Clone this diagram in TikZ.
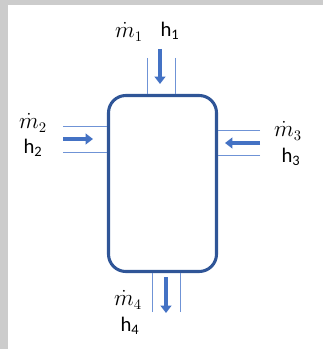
\documentclass[tikz,border=0pt]{standalone}
\usepackage{fontspec}
\setmainfont{Carlito}
\usetikzlibrary{arrows.meta, positioning}
\definecolor{boxblue}{HTML}{2F5597}
\definecolor{flowblue}{HTML}{4472C4}
\definecolor{pipeblue}{HTML}{6F93D6}

\begin{document}
\begin{tikzpicture}[
            x=0.75pt, y=-0.75pt,
            cv/.style={draw=boxblue, line width=2.3pt, rounded corners=13pt,
                       minimum width=81pt, minimum height=132pt, inner sep=0pt},
            pipe/.style={draw=pipeblue, line width=0.7pt},
            flow/.style={draw=flowblue, line width=2.5pt, -{Triangle[length=5.5pt, width=8pt]}},
            lbl/.style={font=\fontsize{15.5}{18}\selectfont, inner sep=0pt},
            mlbl/.style={font=\fontsize{16}{18}\selectfont, inner sep=0pt}]

            % frame of the page
            \useasboundingbox (0,0) rectangle (323,349);
            \fill[gray!40] (0,0) rectangle (8,349);
            \fill[gray!40] (0,0) rectangle (323,5);

            \node[cv] (vol) at (162.5,183.5) {};

            % inlet 1 (top)
            \coordinate (p1a) at (147,58);
            \coordinate (p1b) at (175,58);
            \coordinate (f1s) at (160,49);
            \coordinate (f1e) at (160,84);
            \draw[pipe] (p1a) -- (p1a |- vol.north);
            \draw[pipe] (p1b) -- (p1b |- vol.north);
            \draw[flow] (f1s) -- (f1e);
            \node[mlbl] (m1) at (129,32) {$\dot{m}_1$};
            \node[lbl] (h1) at (170,31) {h\textsubscript{1}};

            % inlet 2 (left)
            \coordinate (p2a) at (63,126);
            \coordinate (p2b) at (63,152);
            \coordinate (f2s) at (63,139);
            \coordinate (f2e) at (93,139);
            \draw[pipe] (p2a) -- (p2a -| vol.west);
            \draw[pipe] (p2b) -- (p2b -| vol.west);
            \draw[flow] (f2s) -- (f2e);
            \node[mlbl] (m2) at (33,123) {$\dot{m}_2$};
            \node[lbl] (h2) at (33,148) {h\textsubscript{2}};

            % inlet 3 (right)
            \coordinate (p3a) at (260,130);
            \coordinate (p3b) at (260,155);
            \coordinate (f3s) at (260,143);
            \coordinate (f3e) at (225,143);
            \draw[pipe] (p3a) -- (p3a -| vol.east);
            \draw[pipe] (p3b) -- (p3b -| vol.east);
            \draw[flow] (f3s) -- (f3e);
            \node[mlbl] (m3) at (288,131) {$\dot{m}_3$};
            \node[lbl] (h3) at (291,157) {h\textsubscript{3}};

            % outlet 4 (bottom)
            \coordinate (p4a) at (152,312);
            \coordinate (p4b) at (180,312);
            \coordinate (f4s) at (166,277);
            \coordinate (f4e) at (166,313);
            \draw[pipe] (p4a) -- (p4a |- vol.south);
            \draw[pipe] (p4b) -- (p4b |- vol.south);
            \draw[flow] (f4s) -- (f4e);
            \node[mlbl] (m4) at (128,300) {$\dot{m}_4$};
            \node[lbl] (h4) at (130,326) {h\textsubscript{4}};
\end{tikzpicture}
\end{document}
